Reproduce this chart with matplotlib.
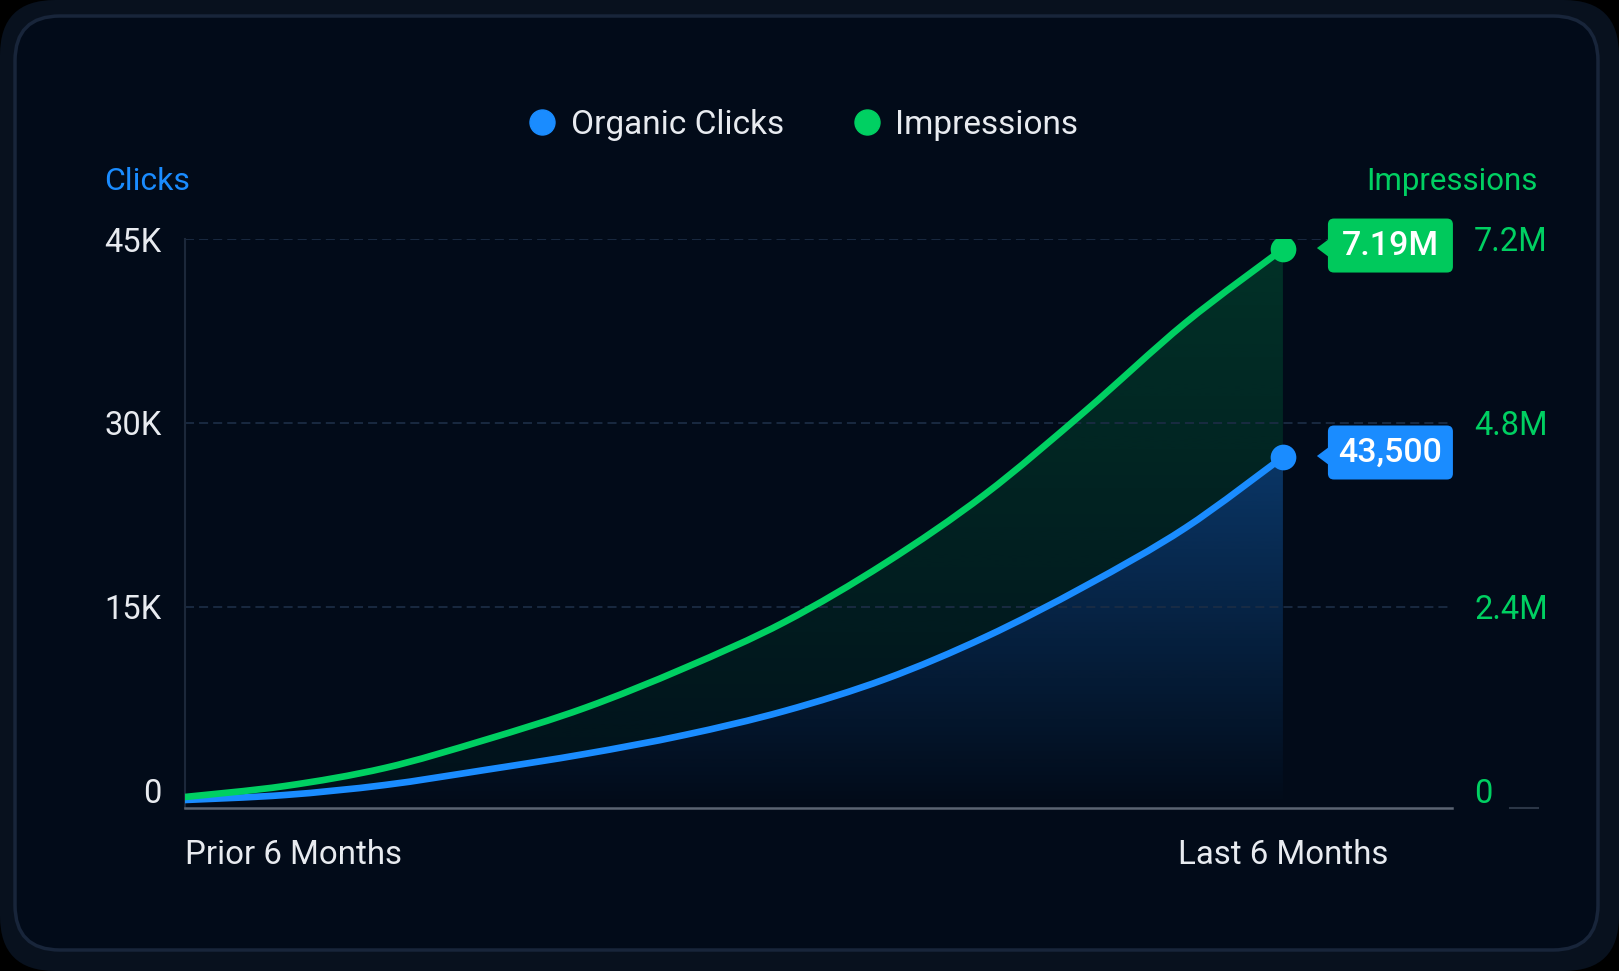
import matplotlib.pyplot as plt
import matplotlib.colors as mcolors
import numpy as np
from matplotlib.patches import FancyBboxPatch, Polygon, PathPatch
from matplotlib.path import Path
from matplotlib.lines import Line2D
from matplotlib.transforms import IdentityTransform

# share of the 12 month window: 0 = start of prior 6 months, 1 = end of last 6 months
period = [0.000, 0.091, 0.182, 0.273, 0.364, 0.455, 0.546, 0.638, 0.729, 0.820, 0.911, 1.000]
clicks = [-734, -326, 489, 1712, 3016, 4565, 6522, 9130, 12554, 16712, 21440, 27228]
impressions = [-78e3, 65e3, 300e3, 665e3, 1.083e6, 1.604e6, 2.204e6, 2.974e6,
               3.874e6, 4.956e6, 6.104e6, 7.069e6]

period_labels = ['Prior 6 Months', 'Last 6 Months']
click_ticks = [0, 15000, 30000, 45000]
click_tick_labels = ['0', '15K', '30K', '45K']
imp_ticks = [0, 2.4e6, 4.8e6, 7.2e6]
imp_tick_labels = ['0', '2.4M', '4.8M', '7.2M']
end_click_label = '43,500'
end_imp_label = '7.19M'

BLUE = '#1a8cff'
GREEN = '#00d062'
TEXT = '#e8ebf0'
CARD = '#020b19'

plt.rcParams['font.family'] = ['Roboto', 'DejaVu Sans']

W, H = 1619, 971
fig = plt.figure(figsize=(W / 100, H / 100), dpi=100)
fig.patch.set_facecolor('black')

# card behind the chart
fig.add_artist(FancyBboxPatch((0, 0), W, H, boxstyle='round,pad=0,rounding_size=55',
                              transform=IdentityTransform(), facecolor='#08111e',
                              edgecolor='none', zorder=-10))
fig.add_artist(FancyBboxPatch((15, 21), 1583, 934, boxstyle='round,pad=0,rounding_size=45',
                              transform=IdentityTransform(), facecolor=CARD,
                              edgecolor='#18253a', lw=2.5, zorder=-9))

ax = fig.add_axes([185 / W, (H - 808) / H, (1452 - 185) / W, (808 - 239) / H])
ax.patch.set_visible(False)
ymin = -1386
xmax = 1.154
ax.set_xlim(0, xmax)
ax.set_ylim(ymin, 45000)

scale = 7.2e6 / 45000  # impressions per click on the two axes


def smooth_segments(xs, ys):
    # cubic bezier segments through the points (catmull-rom tangents)
    pts = np.column_stack([xs, ys]).astype(float)
    n = len(pts)
    verts = [pts[0]]
    for i in range(n - 1):
        p0 = pts[max(i - 1, 0)]
        p1, p2 = pts[i], pts[i + 1]
        p3 = pts[min(i + 2, n - 1)]
        verts += [p1 + (p2 - p0) / 6, p2 - (p3 - p1) / 6, p2]
    return verts


def curve_path(xs, ys):
    verts = smooth_segments(xs, ys)
    codes = [Path.MOVETO] + [Path.CURVE4] * (len(verts) - 1)
    return Path(verts, codes)


def band_path(xs, upper, lower):
    top = smooth_segments(xs, upper)
    bottom = smooth_segments(xs[::-1], lower[::-1])
    verts = top + bottom + [top[0]]
    codes = ([Path.MOVETO] + [Path.CURVE4] * (len(top) - 1) +
             [Path.LINETO] + [Path.CURVE4] * (len(bottom) - 1) + [Path.CLOSEPOLY])
    return Path(verts, codes)


def gradient_area(ax, path, color, a_top, a_bottom, y0, y1, z):
    img = np.zeros((256, 1, 4))
    img[:, :, :3] = mcolors.to_rgb(color)
    img[:, 0, 3] = np.linspace(a_bottom, a_top, 256)
    im = ax.imshow(img, extent=[0, 1, y0, y1], origin='lower',
                   aspect='auto', zorder=z, interpolation='bilinear')
    im.set_clip_path(path, transform=ax.transData)


imp_as_clicks = [v / scale for v in impressions]
gradient_area(ax, band_path(period, imp_as_clicks, clicks), GREEN, 0.2, 0.03, ymin, 45000, 1)
gradient_area(ax, band_path(period, clicks, [ymin] * len(period)), BLUE, 0.34, 0.0,
              ymin, max(clicks), 1)

ax.add_patch(PathPatch(curve_path(period, clicks), fill=False, edgecolor=BLUE, lw=4.8,
                       capstyle='round', zorder=3))
ax.plot(period[-1], clicks[-1], 'o', color=BLUE, ms=18.5, mec='none', zorder=4)
ax.set_xlim(0, xmax)
ax.set_ylim(ymin, 45000)

ax.set_yticks(click_ticks)
ax.set_yticklabels(click_tick_labels)
ax.tick_params(axis='y', length=0, pad=17, labelsize=23.5, labelcolor=TEXT)
ax.set_xticks([0, 1])
ax.set_xticklabels(period_labels)
ax.tick_params(axis='x', length=0, pad=22, labelsize=23.8, labelcolor=TEXT)
ax.get_xticklabels()[0].set_ha('left')

ax.grid(axis='y', color='#1b2c44', lw=1.3, dashes=(5, 2.8))
ax.get_ygridlines()[0].set_visible(False)
for s in ['top', 'right']:
    ax.spines[s].set_visible(False)
ax.spines['left'].set_color('#1c283a')
ax.spines['left'].set_linewidth(1.5)
ax.spines['bottom'].set_color('#5b6472')
ax.spines['bottom'].set_linewidth(1.8)

ax2 = ax.twinx()
ax2.patch.set_visible(False)
ax2.set_ylim(ymin * scale, 7.2e6)
ax2.add_patch(PathPatch(curve_path(period, impressions), fill=False, edgecolor=GREEN, lw=4.8,
                        capstyle='round', zorder=3))
ax2.plot(period[-1], impressions[-1], 'o', color=GREEN, ms=18.5, mec='none', zorder=4)
ax2.set_xlim(0, xmax)
ax2.set_ylim(ymin * scale, 7.2e6)
ax2.set_yticks(imp_ticks)
ax2.set_yticklabels(imp_tick_labels)
ax2.tick_params(axis='y', length=0, pad=16, labelsize=23.5, labelcolor=GREEN)
for s in ax2.spines.values():
    s.set_visible(False)


def value_tag(axis, x, y, text, color, dy):
    px, py = axis.transData.transform((x, y))
    left, w, h = px + 45, 125, 54
    cy = py + dy
    fig.add_artist(FancyBboxPatch((left, cy - h / 2), w, h,
                                  boxstyle='round,pad=0,rounding_size=6',
                                  transform=IdentityTransform(), facecolor=color,
                                  edgecolor='none', zorder=5))
    fig.add_artist(Polygon([(px + 34, py + 1), (left + 1, py + 10), (left + 1, py - 8)],
                           closed=True, transform=IdentityTransform(),
                           facecolor=color, edgecolor='none', zorder=5))
    fig.text((left + w / 2) / W, cy / H, text, ha='center', va='center',
             color='white', fontsize=24.5, fontweight='medium', zorder=6)


value_tag(ax2, period[-1], impressions[-1], end_imp_label, '#00c95c', 3.5)
value_tag(ax, period[-1], clicks[-1], end_click_label, BLUE, 4.5)

# axis titles
fig.text(104 / W, 1 - 182 / H, 'Clicks', ha='left', va='center', color=BLUE, fontsize=23)
fig.text(1538 / W, 1 - 182 / H, 'Impressions', ha='right', va='center', color=GREEN,
         fontsize=22.5)

# short tick at the right baseline
fig.add_artist(Line2D([1510 / W, 1538 / W], [(H - 808) / H] * 2, transform=fig.transFigure,
                      color='#2b3646', lw=1.5))

handles = [Line2D([], [], ls='none', marker='o', ms=18, color=BLUE, label='Organic Clicks'),
           Line2D([], [], ls='none', marker='o', ms=18, color=GREEN, label='Impressions')]
fig.legend(handles=handles, loc='center', bbox_to_anchor=(802 / W, 1 - 125 / H), ncol=2,
           frameon=False, fontsize=24, labelcolor=TEXT, handletextpad=0.35,
           columnspacing=2.0, handlelength=1.0)

fig.savefig('out.png', dpi=100, facecolor=fig.get_facecolor())
